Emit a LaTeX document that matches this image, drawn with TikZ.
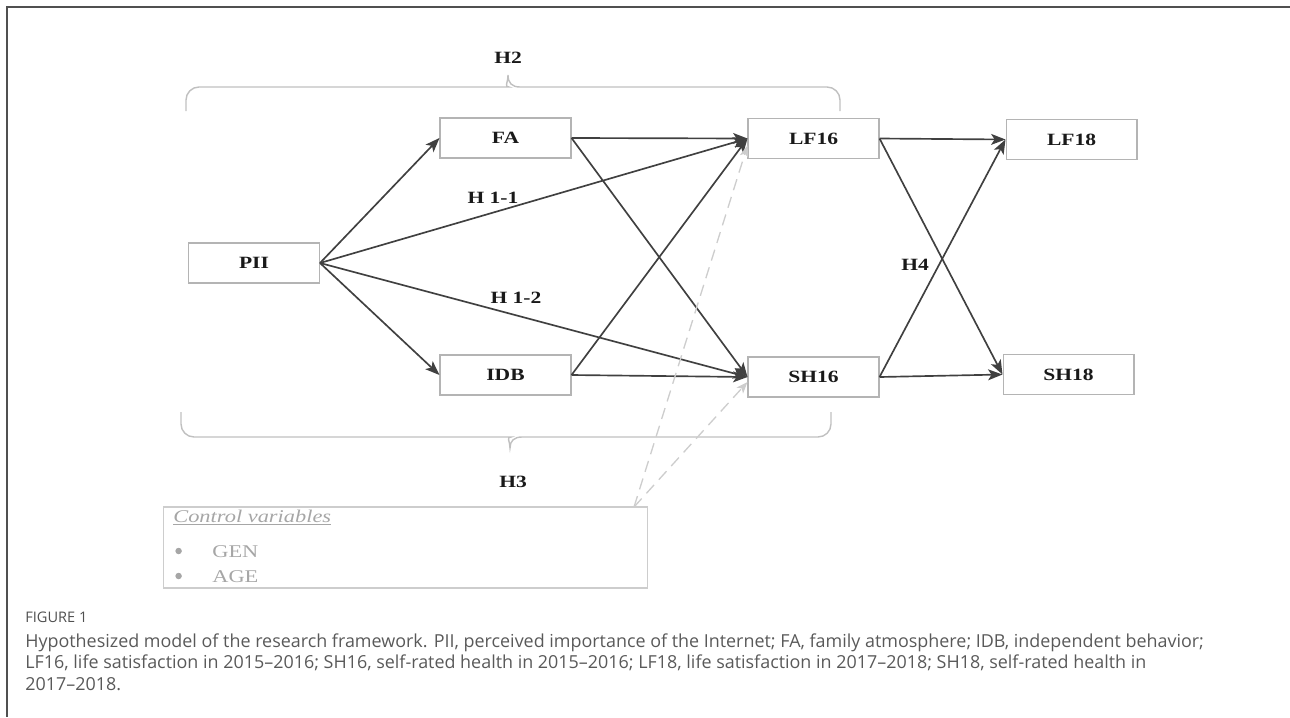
\documentclass[tikz,border=0pt]{standalone}
\usepackage{fontspec}
\setmainfont{Liberation Serif}
\newfontfamily\boxfont[FakeStretch=1.25]{Liberation Serif}
\newfontfamily\capfont{Open Sans}
\usetikzlibrary{arrows, arrows.meta}
\usetikzlibrary{calc}

\definecolor{linkgray}{HTML}{404040}
\definecolor{boxgray}{HTML}{B4B4B4}
\definecolor{bracegray}{HTML}{C0C0C0}
\definecolor{ctrlgray}{HTML}{CDCDCD}
\definecolor{ctrltext}{HTML}{A6A6A6}
\definecolor{capgray}{HTML}{595959}
\definecolor{framegray}{HTML}{505050}

\begin{document}
\begin{tikzpicture}[x=0.02cm, y=-0.02cm,
    box/.style={draw=boxgray, line width=0.6pt, minimum width=2.62cm, minimum height=0.8cm, inner sep=0pt,
      text=black!90, font=\boxfont\bfseries\fontsize{9.8}{11}\selectfont},
    hyp/.style={inner sep=0pt, text=black!90, font=\boxfont\bfseries\fontsize{9.8}{11}\selectfont},
    link/.style={draw=linkgray, line width=0.95pt, -{Stealth[length=8.2pt, width=6.2pt, inset=2pt]}},
    ctrllink/.style={draw=ctrlgray, line width=0.75pt, dash pattern=on 6.5pt off 4pt,
      -{Stealth[length=6.5pt, width=5pt, inset=1.6pt]}},
    bracket/.style={draw=bracegray, line width=0.8pt},
    ctrltxt/.style={inner sep=0pt, text=ctrltext, font=\boxfont\fontsize{10.2}{12}\selectfont},
    captxt/.style={inner sep=0pt, anchor=base west, text=capgray, font=\capfont\fontsize{10.2}{12}\selectfont}]
      \useasboundingbox (0,0) rectangle (1290,717);
      \draw[framegray, line width=1pt] (1290,7) -- (7,7) -- (7,717);

      % variables
      \node[box] (PII) at (254,263) {PII};
      \node[box] (FA) at (505.5,138) {FA};
      \node[box] (IDB) at (505.5,375) {IDB};
      \node[box] (LF16) at (813.5,138.5) {LF16};
      \node[box] (SH16) at (813.5,377) {SH16};
      \node[box] (LF18) at (1071.5,139.5) {LF18};
      \node[box] (SH18) at (1068.5,374.5) {SH18};

      % paths
      \draw[link] (PII.east) -- (FA.west);
      \draw[link] (PII.east) -- (IDB.west);
      \draw[link] (PII.east) -- (LF16.west);
      \draw[link] (PII.east) -- (SH16.west);
      \draw[link] (FA.east) -- (LF16.west);
      \draw[link] (FA.east) -- (SH16.west);
      \draw[link] (IDB.east) -- (LF16.west);
      \draw[link] (IDB.east) -- (SH16.west);
      \draw[link] (LF16.east) -- (LF18.west);
      \draw[link] (LF16.east) -- (SH18.west);
      \draw[link] (SH16.east) -- (LF18.west);
      \draw[link] (SH16.east) -- (SH18.west);

      % hypotheses
      \node[hyp] (H11) at (493,198) {H 1-1};
      \node[hyp] (H12) at (516,298) {H 1-2};
      \node[hyp] (H2) at (508,58) {H2};
      \node[hyp] (H3) at (513,482) {H3};
      \node[hyp] (H4) at (915,265) {H4};

      \draw[bracket] (186,111) [rounded corners=0.26cm] |- (496,87) [sharp corners]
        .. controls (504,87) and (508,83) .. (508,75)
        .. controls (508,83) and (512,87) .. (520,87) [rounded corners=0.26cm] -| (840,111);
      \draw[bracket] (181,412) [rounded corners=0.26cm] |- (498,437) [sharp corners]
        .. controls (506,437) and (510,441) .. (510,448)
        .. controls (510,441) and (514,437) .. (522,437) [rounded corners=0.26cm] -| (831,412);

      % control variables
      \node[draw=ctrlgray, line width=0.6pt, minimum width=9.7cm, minimum height=1.62cm, inner sep=0pt] (ctrl) at (405.5,547.5) {};
      \node[ctrltxt, anchor=base west] (ctrltitle) at (173,522) {\itshape\underline{Control variables}};
      \node[circle, fill=ctrltext, inner sep=0pt, minimum size=0.13cm] (dot1) at (178.6,551) {};
      \node[circle, fill=ctrltext, inner sep=0pt, minimum size=0.13cm] (dot2) at (178.6,576) {};
      \node[ctrltxt, anchor=base west] (gen) at (212,557) {GEN};
      \node[ctrltxt, anchor=base west] (age) at (212,582) {AGE};
      \coordinate (ctrltip) at (634,507);
      \draw[ctrllink] (ctrltip) -- ([yshift=-0.14cm]LF16.west);
      \draw[ctrllink] (ctrltip) -- ([yshift=-0.1cm]SH16.west);

      % caption
      \node[captxt, text=capgray!90!black, font=\capfont\fontsize{8.3}{10}\selectfont] (fig) at (25,622) {FIGURE 1};
      \node[captxt] (cap1) at (25,647) {Hypothesized model of the research framework. PII, perceived importance of the Internet; FA, family atmosphere; IDB, independent behavior;};
      \node[captxt] (cap2) at (25,668.5) {LF16, life satisfaction in 2015\textendash2016; SH16, self-rated health in 2015\textendash2016; LF18, life satisfaction in 2017\textendash2018; SH18, self-rated health in};
      \node[captxt] (cap3) at (25,690) {2017\textendash2018.};
    \end{tikzpicture}
\end{document}
